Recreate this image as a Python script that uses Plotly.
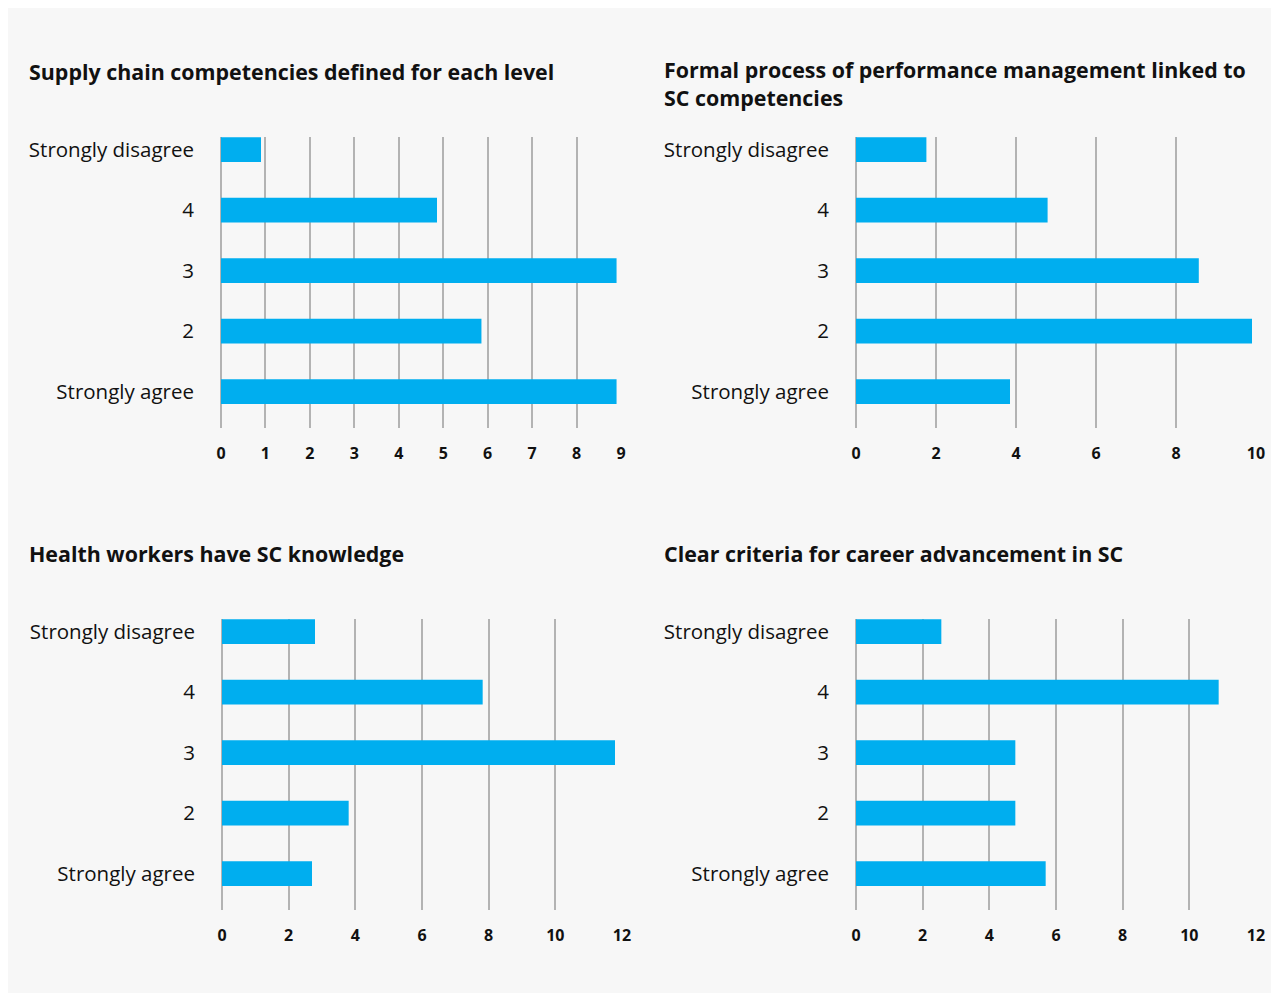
import plotly.graph_objects as go

# page body has an 8px default margin; keep the figure inside the viewport
OFF = 8
W, H = 1279 - 2 * OFF, 1001 - 2 * OFF

categories = ["Strongly disagree", "4", "3", "2", "Strongly agree"]

titles = [
    "Supply chain competencies defined for each level",
    "Formal process of performance management linked to<br>SC competencies",
    "Health workers have SC knowledge",
    "Clear criteria for career advancement in SC",
]

values_competencies = [0.9, 4.86, 8.9, 5.86, 8.9]
values_performance = [1.76, 4.79, 8.57, 9.9, 3.85]
values_knowledge = [2.79, 7.82, 11.79, 3.8, 2.7]
values_career = [2.56, 10.88, 4.78, 4.78, 5.69]

x_max = [9, 10, 12, 12]
x_dtick = [1, 2, 2, 2]

series = [values_competencies, values_performance, values_knowledge, values_career]

BAR = "#00AEEF"
GRID = "#b3b3b3"
TXT = "#111111"
FONT = "Open Sans"

# screen-pixel -> paper helpers
def px(x):
    return (x - OFF) / W

def py(y):
    return 1 - (y - OFF) / H

domains = [
    ((221, 621), (137, 428)),
    ((856, 1256), (137, 428)),
    ((222, 622), (619, 910)),
    ((856, 1256), (619, 910)),
]
title_pos = [(27, 54.5), (662, 53), (27, 536.5), (662, 536.5)]

fig = go.Figure()
layout = dict(
    width=W, height=H,
    margin=dict(l=0, r=0, t=0, b=0, autoexpand=False),
    paper_bgcolor="#f7f7f7",
    plot_bgcolor="rgba(0,0,0,0)",
    showlegend=False,
    font=dict(family=FONT, color=TXT),
    annotations=[],
)

for i, vals in enumerate(series):
    n = "" if i == 0 else str(i + 1)
    fig.add_trace(go.Bar(
        x=vals, y=categories, orientation="h",
        marker=dict(color=BAR, line=dict(width=0)),
        width=0.41,
        xaxis="x" + n, yaxis="y" + n,
        hoverinfo="x+y",
    ))
    (x0, x1), (y0, y1) = domains[i]
    layout["xaxis" + n] = dict(
        domain=[px(x0), px(x1)],
        anchor="y" + n,
        automargin=False,
        range=[0, x_max[i]],
        dtick=x_dtick[i], tick0=0,
        showgrid=True, gridcolor=GRID, gridwidth=1.5,
        zeroline=True, zerolinecolor=GRID, zerolinewidth=1.5,
        showline=False, ticks="",
        tickfont=dict(size=16, family=FONT, color=TXT, weight="bold"),
        ticklabelstandoff=14,
        fixedrange=True,
    )
    layout["yaxis" + n] = dict(
        domain=[py(y1), py(y0)],
        anchor="x" + n,
        automargin=False,
        type="category",
        categoryorder="array", categoryarray=categories,
        range=[4.6, -0.21],
        showgrid=False, zeroline=False, showline=False, ticks="",
        tickfont=dict(size=20.5, family=FONT, color=TXT),
        ticklabelstandoff=26,
        fixedrange=True,
    )
    tx, ty = title_pos[i]
    layout["annotations"].append(dict(
        text="<b>" + titles[i] + "</b>",
        xref="paper", yref="paper", x=px(tx), y=py(ty),
        xanchor="left", yanchor="top", align="left",
        showarrow=False,
        font=dict(size=21.4, family=FONT, color=TXT),
    ))

fig.update_layout(**layout)
fig.write_html("out.html")
